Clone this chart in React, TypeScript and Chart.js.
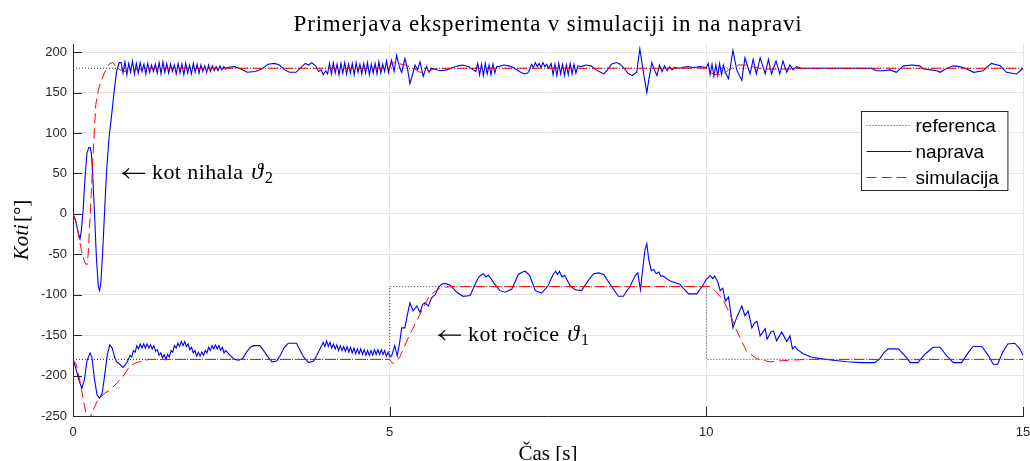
import React, { useEffect, useRef } from "react";
import { Chart, registerables } from "chart.js";

Chart.register(...registerables);

type Pair = [number, number];
type Block = { t0: number; dt: number; v: number[] };

const TITLE = "Primerjava eksperimenta v simulaciji in na napravi";
const X_LABEL = "Čas [s]";
const Y_LABEL_ITALIC = "Koti";
const Y_LABEL_UPRIGHT = "[°]";
const LEGEND_LABELS = ["referenca", "naprava", "simulacija"];
const X_RANGE: Pair = [0, 15];
const Y_RANGE: Pair = [-250, 210];
const X_STEP = 5;
const Y_STEP = 50;
const ANNO_TH2 = { x: 0.79, y: 50, text: "kot nihala ", sub: "2" };
const ANNO_TH1 = { x: 5.78, y: -150, text: "kot ročice ", sub: "1" };

// ---------- referenca ----------
const refTh2: Pair[] = [[0, 180], [15, 180]];
const refTh1: Pair[] = [[0, -180], [5, -180], [5, -90], [10, -90], [10, -180], [15, -180]];

// ---------- simulacija ----------
const simTh2: Pair[] = [
  [0, 0], [0.05, -10], [0.1, -32], [0.15, -52], [0.2, -62], [0.22, -63], [0.24, -50], [0.27, -5],
  [0.3, 45], [0.32, 78], [0.36, 135], [0.4, 153], [0.43, 161], [0.5, 175], [0.58, 186], [0.63, 187],
  [0.7, 180], [0.79, 176], [0.9, 177], [1.0, 178], [1.2, 180], [5.0, 180], [5.03, 186], [5.08, 187],
  [5.24, 184], [5.37, 180], [5.48, 175], [5.6, 176], [5.7, 179], [5.8, 180], [10.0, 180], [10.05, 175],
  [10.15, 172], [10.28, 173], [10.35, 178], [10.5, 184], [10.65, 184], [10.72, 182], [10.9, 179],
  [11.3, 179], [11.5, 180], [15, 180],
];
const simTh1: Pair[] = [
  [0, -180], [0.05, -186], [0.1, -203], [0.16, -228], [0.2, -245], [0.23, -255], [0.27, -252],
  [0.32, -242], [0.38, -232], [0.42, -228], [0.5, -222], [0.58, -218], [0.66, -212], [0.72, -207],
  [0.77, -203], [0.9, -188], [1.0, -184], [1.2, -180], [5.0, -180], [5.05, -185], [5.1, -183],
  [5.16, -177], [5.32, -149], [5.48, -124], [5.63, -101], [5.79, -92], [5.95, -90], [10.0, -90],
  [10.05, -90], [10.15, -96], [10.26, -106], [10.37, -123], [10.45, -139], [10.53, -153], [10.63, -169],
  [10.79, -179], [11.0, -183], [11.3, -181], [11.6, -180], [15, -180],
];

// ---------- naprava, kot nihala ----------
const napTh2Start: Pair[] = [
  [0, 0], [0.04, -8], [0.08, -22], [0.11, -31], [0.13, -22], [0.16, 5], [0.19, 45], [0.22, 75],
  [0.25, 82], [0.27, 82], [0.29, 75], [0.31, 50], [0.34, 0], [0.37, -55], [0.4, -90], [0.42, -95],
  [0.44, -85], [0.47, -45], [0.5, 5], [0.53, 53], [0.57, 95], [0.61, 122], [0.65, 152], [0.69, 177],
  [0.73, 187],
];
const napTh2WigA: Block = {
  t0: 0.76, dt: 0.03,
  v: [187, 174, 188, 172, 186, 175, 189, 173, 186, 174, 187, 176, 185, 173, 186, 175, 184, 176, 185, 174,
    187, 173, 188, 175, 186, 174, 185, 176, 184, 173, 186, 174, 185, 172, 186, 174, 184, 173, 186, 175,
    185, 174, 184, 176, 183, 175, 184, 176, 183, 177, 182, 177, 183, 178, 182, 179],
};
const napTh2Mid1: Pair[] = [
  [2.43, 181], [2.55, 182], [2.65, 179], [2.75, 175], [2.88, 176], [2.98, 179], [3.08, 185], [3.18, 186],
  [3.26, 184], [3.34, 178], [3.42, 175], [3.52, 175], [3.6, 181], [3.67, 186], [3.72, 184], [3.77, 187],
  [3.83, 183], [3.88, 176], [3.92, 178], [3.95, 172], [3.99, 177], [4.02, 173],
];
const napTh2WigB: Block = {
  t0: 4.05, dt: 0.03,
  v: [186, 173, 187, 174, 185, 172, 186, 174, 187, 173, 185, 174, 186, 172, 187, 175, 185, 173, 186, 174,
    187, 172, 185, 174, 186, 173, 188, 174, 185, 176, 189, 175],
};
const napTh2Mid2: Pair[] = [
  [5.03, 190], [5.07, 176], [5.11, 196], [5.16, 180], [5.19, 175], [5.24, 192], [5.28, 180], [5.32, 161],
  [5.36, 172], [5.4, 184], [5.44, 178], [5.48, 188], [5.53, 170], [5.58, 182], [5.62, 175], [5.66, 180],
  [5.7, 179], [5.8, 177], [5.9, 178], [6.0, 181], [6.08, 183], [6.15, 184], [6.25, 182], [6.32, 178],
  [6.36, 176],
];
const napTh2WigC: Block = { t0: 6.39, dt: 0.03, v: [186, 172, 185, 171, 186, 173, 184, 172, 185, 174, 182] };
const napTh2Mid3: Pair[] = [
  [6.72, 182], [6.8, 184], [6.88, 183], [6.95, 181], [7.05, 176], [7.12, 173], [7.18, 174], [7.21, 178],
];
const napTh2WigD: Block = { t0: 7.24, dt: 0.03, v: [185, 181, 187, 182, 186, 181, 187, 182, 185, 180] };
const napTh2WigE: Block = {
  t0: 7.55, dt: 0.03,
  v: [186, 172, 185, 171, 186, 173, 185, 171, 184, 172, 186, 173, 185, 174, 183],
};
const napTh2Mid4: Pair[] = [
  [8.02, 182], [8.1, 184], [8.18, 183], [8.26, 178], [8.33, 175], [8.38, 173], [8.44, 178], [8.5, 185],
  [8.58, 187], [8.64, 185], [8.7, 180], [8.76, 174], [8.83, 171], [8.9, 175], [8.95, 204], [9.0, 178],
  [9.06, 150], [9.1, 170], [9.14, 187], [9.18, 178], [9.22, 171], [9.26, 184], [9.3, 176], [9.34, 183],
  [9.38, 177], [9.42, 182], [9.46, 178], [9.5, 181], [9.57, 180], [9.7, 182], [9.8, 181], [9.9, 182],
  [10.0, 181],
];
const napTh2WigF: Block = { t0: 10.03, dt: 0.03, v: [186, 172, 185, 170, 184, 171, 186, 172, 184, 175] };
const napTh2End: Pair[] = [
  [10.35, 167], [10.42, 202], [10.48, 178], [10.56, 165], [10.61, 193], [10.69, 173], [10.74, 191],
  [10.79, 173], [10.85, 193], [10.93, 173], [10.98, 191], [11.03, 173], [11.1, 189], [11.16, 173],
  [11.21, 189], [11.27, 175], [11.32, 184], [11.37, 178], [11.42, 182], [11.5, 180], [12.0, 180],
  [12.6, 180], [12.69, 177], [12.8, 177], [12.9, 178], [13.0, 175], [13.11, 183], [13.25, 184],
  [13.37, 183], [13.43, 179], [13.55, 178], [13.64, 177], [13.69, 175], [13.8, 180], [13.9, 183],
  [14.0, 182], [14.11, 179], [14.22, 175], [14.37, 177], [14.5, 186], [14.64, 183], [14.74, 175],
  [14.9, 173], [15.0, 180],
];

// ---------- naprava, kot ročice ----------
const napTh1Start: Pair[] = [
  [0, -180], [0.04, -190], [0.09, -205], [0.14, -216], [0.18, -205], [0.22, -182], [0.27, -172],
  [0.3, -178], [0.34, -205], [0.38, -224], [0.42, -228], [0.46, -222], [0.5, -200], [0.54, -175],
  [0.58, -162], [0.62, -166], [0.66, -178], [0.69, -183], [0.74, -186], [0.79, -190], [0.85, -184],
  [0.88, -179],
];
const napTh1RipA: Block = {
  t0: 0.9, dt: 0.027,
  v: [-175, -177, -169, -171, -163, -167, -161, -166, -161, -166, -161, -166, -162, -167, -163, -170,
    -168, -175, -172, -178, -174, -180, -174, -177, -169, -171, -163, -166, -160, -164, -158, -163, -158,
    -164, -161, -168, -165, -172, -169, -176, -171, -176, -171, -175, -169, -172, -165, -169, -163, -167,
    -162, -167, -163, -169, -165, -172, -169],
};
const napTh1Mid: Pair[] = [
  [2.48, -175], [2.55, -180], [2.62, -181], [2.68, -179], [2.74, -171], [2.8, -165], [2.85, -163],
  [2.95, -163], [3.0, -168], [3.06, -175], [3.14, -183], [3.22, -182], [3.28, -174], [3.33, -166],
  [3.4, -160], [3.53, -160], [3.58, -168], [3.64, -177], [3.72, -184], [3.8, -182], [3.85, -175],
  [3.9, -167],
];
const napTh1RipB: Block = {
  t0: 3.95, dt: 0.027,
  v: [-159, -164, -157, -164, -159, -166, -161, -167, -162, -169, -163, -169, -164, -170, -164, -171,
    -165, -172, -166, -173, -167, -173, -167, -174, -168, -175, -169, -175, -169, -175, -168, -174, -168,
    -174, -168, -174, -169, -176, -171],
};
const napTh1End: Pair[] = [
  [5.0, -176], [5.03, -176], [5.08, -163], [5.12, -176], [5.16, -158], [5.19, -141], [5.24, -141],
  [5.28, -125], [5.32, -110], [5.37, -120], [5.43, -114], [5.48, -122], [5.52, -112], [5.56, -110],
  [5.61, -114], [5.66, -104], [5.72, -100], [5.77, -91], [5.82, -87], [5.87, -86], [5.95, -88],
  [6.0, -92], [6.06, -97], [6.16, -102], [6.27, -101], [6.35, -87], [6.4, -79], [6.44, -76], [6.48, -74],
  [6.52, -78], [6.56, -76], [6.6, -80], [6.64, -85], [6.74, -95], [6.82, -97], [6.93, -93], [7.03, -75],
  [7.1, -72], [7.14, -71], [7.21, -76], [7.3, -95], [7.4, -98], [7.5, -89], [7.58, -75], [7.62, -71],
  [7.65, -75], [7.68, -71], [7.72, -78], [7.76, -76], [7.85, -89], [7.93, -94], [8.03, -95], [8.14, -82],
  [8.22, -74], [8.3, -73], [8.38, -75], [8.48, -87], [8.61, -102], [8.69, -102], [8.8, -89], [8.88, -76],
  [8.92, -73], [8.94, -84], [8.96, -94], [8.99, -72], [9.03, -45], [9.06, -37], [9.09, -56], [9.13, -70],
  [9.17, -69], [9.21, -74], [9.25, -72], [9.28, -77], [9.32, -77], [9.37, -80], [9.43, -83], [9.5, -85],
  [9.58, -87], [9.66, -94], [9.72, -99], [9.85, -99], [9.95, -88], [10.0, -81], [10.03, -79],
  [10.06, -76], [10.1, -80], [10.13, -77], [10.18, -84], [10.22, -95], [10.26, -92], [10.3, -108],
  [10.35, -103], [10.42, -141], [10.48, -128], [10.56, -114], [10.61, -126], [10.66, -120],
  [10.72, -141], [10.76, -135], [10.8, -133], [10.85, -151], [10.93, -142], [10.96, -155],
  [11.02, -146], [11.06, -145], [11.11, -157], [11.19, -146], [11.27, -158], [11.32, -151],
  [11.36, -167], [11.4, -164], [11.44, -168], [11.53, -173], [11.65, -177], [11.8, -179], [12.0, -181],
  [12.22, -183], [12.45, -184], [12.66, -184], [12.74, -179], [12.8, -172], [12.87, -167], [13.03, -167],
  [13.13, -175], [13.22, -184], [13.34, -184], [13.46, -173], [13.58, -165], [13.69, -165], [13.79, -175],
  [13.9, -184], [14.03, -184], [14.14, -171], [14.21, -164], [14.35, -164], [14.45, -175], [14.53, -186],
  [14.6, -186], [14.68, -171], [14.76, -161], [14.87, -160], [14.95, -167], [15.0, -175],
];

const COLORS = { ref: "#3c3c3c", nap: "#0000ff", sim: "#ff0000", axis: "#262626", grid: "#e3e3e3" };
const SANS = '"Liberation Sans", Arial, sans-serif';
const SERIF = '"Liberation Serif", "Times New Roman", serif';

const fromPairs = (p: Pair[]) => p.map(([x, y]) => ({ x, y }));
const fromBlock = (b: Block) => b.v.map((y, i) => ({ x: Math.round((b.t0 + i * b.dt) * 1000) / 1000, y }));

const napTh2 = [
  ...fromPairs(napTh2Start), ...fromBlock(napTh2WigA), ...fromPairs(napTh2Mid1), ...fromBlock(napTh2WigB),
  ...fromPairs(napTh2Mid2), ...fromBlock(napTh2WigC), ...fromPairs(napTh2Mid3), ...fromBlock(napTh2WigD),
  ...fromBlock(napTh2WigE), ...fromPairs(napTh2Mid4), ...fromBlock(napTh2WigF), ...fromPairs(napTh2End),
];
const napTh1 = [
  ...fromPairs(napTh1Start), ...fromBlock(napTh1RipA), ...fromPairs(napTh1Mid), ...fromBlock(napTh1RipB),
  ...fromPairs(napTh1End),
];

const decorPlugin = {
  id: "decor",
  afterDraw(chart: any) {
    const { ctx, chartArea, scales } = chart;
    const xs = scales.x;
    const ys = scales.y;
    ctx.save();
    // inward tick marks
    ctx.strokeStyle = COLORS.axis;
    ctx.lineWidth = 1;
    ys.ticks.forEach((t: any) => {
      const y = Math.round(ys.getPixelForValue(t.value)) + 0.5;
      ctx.beginPath();
      ctx.moveTo(chartArea.left, y);
      ctx.lineTo(chartArea.left + 9, y);
      ctx.stroke();
    });
    xs.ticks.forEach((t: any) => {
      const x = Math.round(xs.getPixelForValue(t.value)) + 0.5;
      ctx.beginPath();
      ctx.moveTo(x, chartArea.bottom);
      ctx.lineTo(x, chartArea.bottom - 9);
      ctx.stroke();
    });
    const cx = (chartArea.left + chartArea.right) / 2;
    // title
    ctx.fillStyle = "#000";
    ctx.textBaseline = "alphabetic";
    ctx.textAlign = "center";
    ctx.font = `23px ${SERIF}`;
    if ("letterSpacing" in ctx) (ctx as any).letterSpacing = "0.8px";
    ctx.fillText(TITLE, cx, 31);
    if ("letterSpacing" in ctx) (ctx as any).letterSpacing = "0px";
    // x label
    ctx.font = `21px ${SERIF}`;
    ctx.fillText(X_LABEL, cx, 460);
    // y label
    ctx.save();
    ctx.translate(28, (chartArea.top + chartArea.bottom) / 2);
    ctx.rotate(-Math.PI / 2);
    ctx.textAlign = "left";
    ctx.font = `italic 21px ${SERIF}`;
    const w1 = ctx.measureText(Y_LABEL_ITALIC).width;
    ctx.font = `21px ${SERIF}`;
    const w2 = ctx.measureText(Y_LABEL_UPRIGHT).width;
    const start = -(w1 + w2 + 2) / 2;
    ctx.font = `italic 21px ${SERIF}`;
    ctx.fillText(Y_LABEL_ITALIC, start, 0);
    ctx.font = `21px ${SERIF}`;
    ctx.fillText(Y_LABEL_UPRIGHT, start + w1 + 2, 0);
    ctx.restore();
    // annotations
    const anno = (a: { x: number; y: number; text: string; sub: string }) => {
      const px = xs.getPixelForValue(a.x);
      const py = ys.getPixelForValue(a.y) + 6;
      ctx.textAlign = "left";
      // arrow
      ctx.save();
      ctx.strokeStyle = "#000";
      ctx.lineWidth = 1.1;
      const ay = py - 6;
      ctx.beginPath();
      ctx.moveTo(px, ay);
      ctx.lineTo(px + 22, ay);
      ctx.moveTo(px + 6, ay - 5);
      ctx.quadraticCurveTo(px + 3, ay - 1, px, ay);
      ctx.quadraticCurveTo(px + 3, ay + 1, px + 6, ay + 5);
      ctx.stroke();
      ctx.restore();
      let x = px + 29;
      ctx.font = `22px ${SERIF}`;
      if ("letterSpacing" in ctx) (ctx as any).letterSpacing = "0.4px";
      ctx.fillText(a.text, x, py);
      x += ctx.measureText(a.text).width;
      if ("letterSpacing" in ctx) (ctx as any).letterSpacing = "0px";
      ctx.font = `italic 24px ${SERIF}`;
      ctx.fillText("ϑ", x + 2, py);
      x += ctx.measureText("ϑ").width + 2;
      ctx.font = `16px ${SERIF}`;
      ctx.fillText(a.sub, x + 2, py + 4);
    };
    anno(ANNO_TH2);
    anno(ANNO_TH1);
    // legend
    ctx.font = `19px ${SANS}`;
    const items = chart.data.datasets.filter((d: any) => d.inLegend);
    const textW = Math.max(...items.map((d: any) => ctx.measureText(d.label).width));
    const sample = 45;
    const boxW = 5 + sample + 4 + textW + 9;
    const rowH = 26;
    const boxH = 13 + rowH * (items.length - 1) + 14;
    const bx = Math.round(chartArea.right - 16 - boxW) + 0.5;
    const by = Math.round(chartArea.top + 67) + 0.5;
    ctx.fillStyle = "#fff";
    ctx.fillRect(bx, by, boxW, boxH);
    ctx.strokeStyle = COLORS.axis;
    ctx.lineWidth = 1;
    ctx.strokeRect(bx, by, boxW, boxH);
    items.forEach((d: any, i: number) => {
      const y = Math.round(by + 13 + i * rowH) + 0.5;
      ctx.save();
      ctx.strokeStyle = d.borderColor;
      ctx.lineWidth = d.borderWidth;
      ctx.setLineDash(d.borderDash || []);
      ctx.beginPath();
      ctx.moveTo(bx + 5, y);
      ctx.lineTo(bx + 5 + sample, y);
      ctx.stroke();
      ctx.restore();
      ctx.fillStyle = "#000";
      ctx.textAlign = "left";
      ctx.textBaseline = "middle";
      ctx.font = `19px ${SANS}`;
      ctx.fillText(d.label, bx + 5 + sample + 4, y + 1);
    });
    ctx.restore();
  },
};

export default function App() {
  const canvasRef = useRef<HTMLCanvasElement>(null);

  useEffect(() => {
    const canvas = canvasRef.current;
    if (!canvas) return;
    const refStyle = { borderColor: COLORS.ref, borderWidth: 1, borderDash: [1, 2] };
    const napStyle = { borderColor: COLORS.nap, borderWidth: 1.1, borderDash: [] as number[] };
    const simStyle = { borderColor: COLORS.sim, borderWidth: 1, borderDash: [10, 5] };
    const chart = new Chart(canvas, {
      type: "line",
      data: {
        datasets: [
          { label: LEGEND_LABELS[0], data: fromPairs(refTh2), ...refStyle, order: 2, inLegend: true },
          { label: LEGEND_LABELS[1], data: napTh2, ...napStyle, order: 1, inLegend: true },
          { label: LEGEND_LABELS[2], data: fromPairs(simTh2), ...simStyle, order: 0, inLegend: true },
          { label: LEGEND_LABELS[0], data: fromPairs(refTh1), ...refStyle, order: 2 },
          { label: LEGEND_LABELS[1], data: napTh1, ...napStyle, order: 1 },
          { label: LEGEND_LABELS[2], data: fromPairs(simTh1), ...simStyle, order: 0 },
        ] as any,
      },
      options: {
        animation: false,
        responsive: false,
        events: [],
        parsing: false,
        normalized: true,
        layout: { padding: { left: 0, right: 22, top: 44, bottom: 0 } },
        elements: { point: { radius: 0 }, line: { tension: 0, fill: false } },
        plugins: { legend: { display: false }, title: { display: false }, tooltip: { enabled: false } },
        scales: {
          x: {
            type: "linear",
            min: X_RANGE[0],
            max: X_RANGE[1],
            afterFit: (s: any) => { s.height = 54; },
            ticks: {
              stepSize: X_STEP,
              autoSkip: false,
              maxRotation: 0,
              padding: 9,
              color: COLORS.axis,
              font: { family: SANS, size: 13 },
            },
            grid: { color: COLORS.grid, drawTicks: false },
            border: { display: true, color: COLORS.axis, width: 1 },
          },
          y: {
            type: "linear",
            min: Y_RANGE[0],
            max: Y_RANGE[1],
            afterFit: (s: any) => { s.width = 73; },
            ticks: {
              stepSize: Y_STEP,
              includeBounds: false,
              padding: 6,
              color: COLORS.axis,
              font: { family: SANS, size: 13 },
            },
            grid: { color: COLORS.grid, drawTicks: false },
            border: { display: true, color: COLORS.axis, width: 1 },
          },
        },
      } as any,
      plugins: [decorPlugin],
    });
    return () => chart.destroy();
  }, []);

  return (
    <div
      style={{
        position: "fixed",
        left: 0,
        top: 0,
        width: 1030,
        height: 461,
        overflow: "hidden",
        background: "#fff",
      }}
    >
      <canvas ref={canvasRef} width={1045} height={470} style={{ display: "block", width: 1045, height: 470 }} />
    </div>
  );
}
